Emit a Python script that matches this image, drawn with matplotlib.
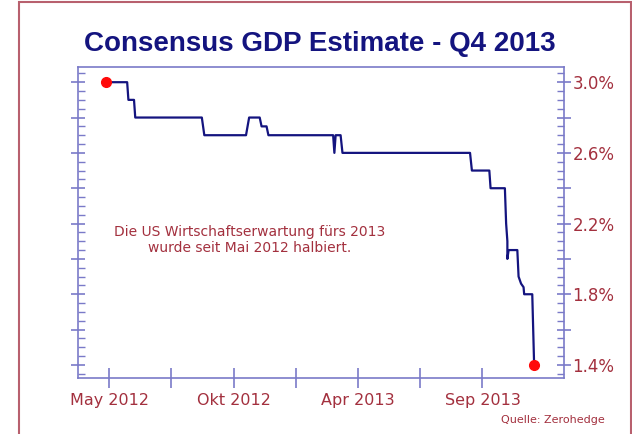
import numpy as np
import matplotlib.pyplot as plt
from matplotlib.ticker import MultipleLocator
from matplotlib.patches import Rectangle

# x in tick units (one unit = distance between two x ticks, 0 = May 2012)
x = [-0.05, 0.29, 0.31, 0.40, 0.42, 1.49, 1.53, 2.20, 2.25, 2.42, 2.45, 2.53,
     2.56, 3.60, 3.62, 3.64, 3.72, 3.75, 5.80, 5.83, 6.11, 6.13, 6.36, 6.38,
     6.40, 6.40, 6.42, 6.56, 6.58, 6.62, 6.66, 6.67, 6.80, 6.83]
gdp = [3.0, 3.0, 2.9, 2.9, 2.8, 2.8, 2.7, 2.7, 2.8, 2.8, 2.75, 2.75,
       2.7, 2.7, 2.6, 2.7, 2.7, 2.6, 2.6, 2.5, 2.5, 2.4, 2.4, 2.2,
       2.1, 2.0, 2.05, 2.05, 1.9, 1.86, 1.84, 1.8, 1.8, 1.4]
xtick_pos = [0, 2, 4, 6]
xtick_labels = ['May 2012', 'Okt 2012', 'Apr 2013', 'Sep 2013']
ytick_pos = [1.4, 1.8, 2.2, 2.6, 3.0]

navy = '#14147f'
red = '#a3303e'
axis_col = '#7a7ac8'

fig = plt.figure(figsize=(6.32, 4.34), dpi=100)
fig.patches.append(Rectangle((19 / 632, -0.05), 612 / 632, 1.05 - 2 / 434,
                             transform=fig.transFigure, fill=False,
                             edgecolor='#b8606e', linewidth=1.5))

ax = fig.add_axes([78 / 632, 1 - 378 / 434, 486 / 632, 311 / 434])
ax.plot(x, gdp, color=navy, linewidth=1.6, zorder=3)
ax.plot([x[0], x[-1]], [gdp[0], gdp[-1]], 'o', color='#ff0a0a', markersize=7, zorder=4)

ax.set_xlim(-0.5, 7.31)
ax.set_ylim(1.326, 3.086)

for s in ax.spines.values():
    s.set_color(axis_col)
    s.set_linewidth(1.2)

ax.yaxis.set_minor_locator(MultipleLocator(0.05))
ax.set_yticks(np.arange(1.4, 3.01, 0.2))
ax.set_yticklabels(['%.1f%%' % v if any(abs(v - t) < 1e-6 for t in ytick_pos) else ''
                    for v in np.arange(1.4, 3.01, 0.2)])
ax.set_xticks(range(0, 7))
ax.set_xticklabels([xtick_labels[xtick_pos.index(i)] if i in xtick_pos else '' for i in range(7)])

ax.tick_params(axis='y', which='major', direction='inout', length=10, width=1.2,
               color=axis_col, left=True, right=True, labelleft=False,
               labelright=True, labelcolor=red, labelsize=12, pad=1)
ax.tick_params(axis='y', which='minor', direction='in', length=5, width=1,
               color=axis_col, left=True, right=True)
ax.tick_params(axis='x', which='major', direction='inout', length=14, width=1.2,
               color=axis_col, labelcolor=red, labelsize=11.5, pad=4)

ax.text(0.354, 0.444, 'Die US Wirtschaftserwartung fürs 2013\nwurde seit Mai 2012 halbiert.',
        transform=ax.transAxes, ha='center', va='center', color=red,
        fontsize=10, linespacing=1.25)

fig.text(320 / 632, 1 - 44 / 434, 'Consensus GDP Estimate - Q4 2013',
         ha='center', va='center', color=navy, fontsize=20, fontweight='bold',
         family='Liberation Sans')
fig.text(605 / 632, 1 - 420 / 434, 'Quelle: Zerohedge', ha='right', va='center',
         color=red, fontsize=8)

fig.savefig('out.png', dpi=100)
